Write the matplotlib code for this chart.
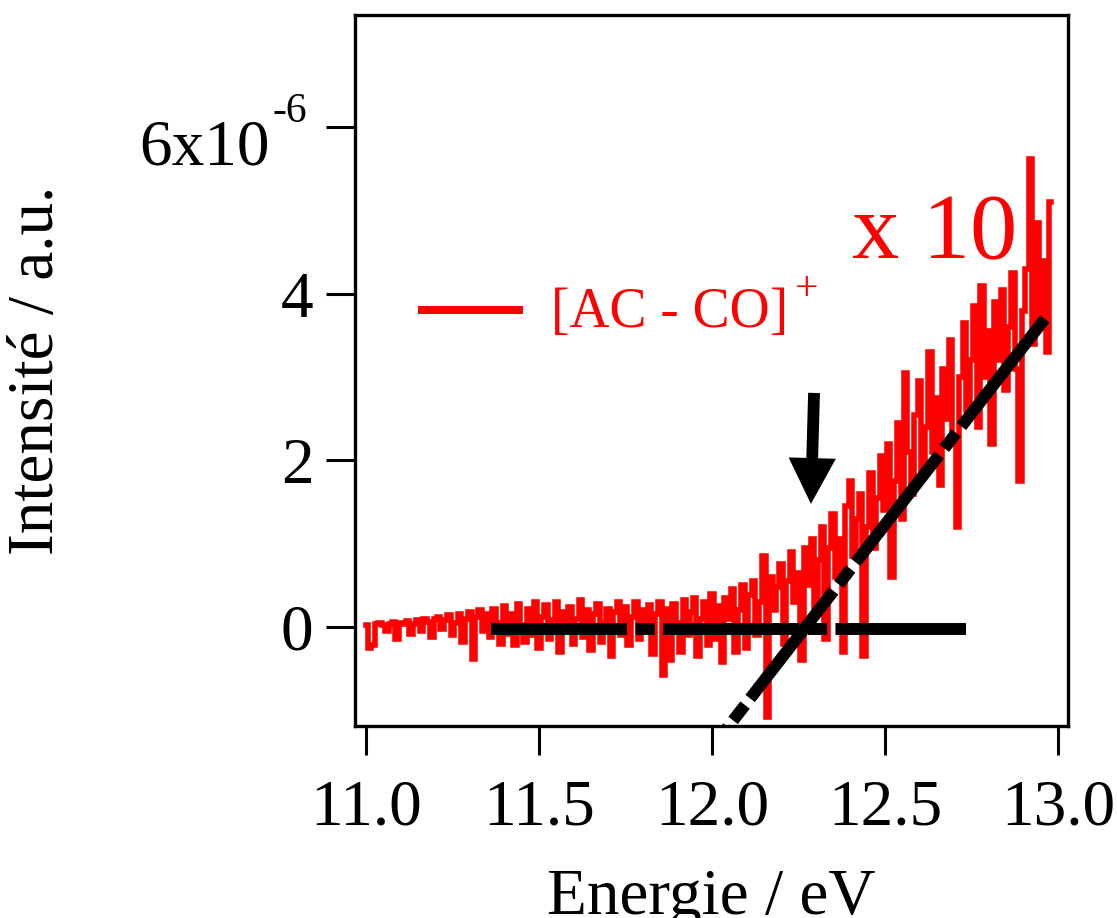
import numpy as np
import matplotlib
matplotlib.use("Agg")
import matplotlib.pyplot as plt
from matplotlib.transforms import blended_transform_factory

plt.rcParams['font.family'] = ['Liberation Serif', 'DejaVu Serif']
plt.rcParams['lines.scale_dashes'] = False

# signal [AC - CO]+ (x 1e-6, shown x 10), one value every 0.01 eV from 11.00 eV
intensity = [
    # 11.00 - 11.39
    0.02, -0.25, -0.22, 0.03, 0.05, 0.02, -0.05, 0.04, 0.06, -0.15,
    0.05, 0.03, 0.07, -0.08, 0.04, 0.08, -0.05, 0.10, 0.06, -0.12,
    0.09, 0.12, -0.02, 0.08, 0.14, -0.10, 0.05, 0.15, -0.18, 0.10,
    0.18, -0.38, 0.12, 0.20, -0.05, 0.16, -0.12, 0.22, 0.05, -0.20,
    # 11.40 - 11.99
    0.25, -0.08, 0.15, -0.22, 0.28, 0.02, -0.18, 0.22, -0.10, 0.30,
    -0.25, 0.12, 0.26, -0.15, 0.08, 0.30, -0.30, 0.18, -0.05, 0.24,
    -0.20, 0.10, 0.32, -0.12, 0.20, -0.28, 0.15, 0.28, -0.18, 0.05,
    0.22, -0.35, 0.18, 0.30, -0.10, 0.24, -0.22, 0.12, 0.30, -0.15,
    0.20, -0.05, 0.26, -0.32, 0.16, 0.30, -0.58, 0.22, -0.40, 0.28,
    0.05, -0.30, 0.32, -0.10, 0.18, 0.35, -0.35, 0.10, 0.30, -0.22,
    # 12.00 - 12.19
    0.40, -0.15, 0.25, -0.42, 0.35, 0.10, 0.45, -0.30, 0.20, 0.50,
    -0.25, 0.38, 0.55, -0.10, 0.30, 0.85, -1.08, 0.60, 0.20, 0.48,
    # 12.20 - 12.49
    0.75, -0.20, 0.55, 0.90, 0.30, 0.65, -0.40, 0.95, 0.50, 1.05,
    0.20, 0.80, 1.20, -0.15, 0.95, 1.35, 0.60, 1.05, -0.30, 1.45,
    1.75, 0.85, 1.30, 1.60, -0.35, 1.20, 1.85, 0.95, 1.55, 2.05,
    # 12.50 - 12.98
    1.40, 2.20, 0.60, 1.75, 2.45, 1.30, 3.05, 2.10, 1.60, 2.55,
    2.95, 1.85, 2.40, 3.30, 2.10, 2.75, 1.70, 3.10, 2.50, 3.45,
    2.20, 1.20, 3.00, 3.65, 2.60, 3.20, 3.85, 2.40, 4.10, 3.00,
    3.55, 2.20, 3.90, 3.20, 4.05, 2.85, 3.60, 4.25, 3.10, 1.75,
    3.80, 4.30, 5.62, 3.40, 4.85, 3.70, 4.40, 3.30, 5.10,
]
e_start = 11.0
e_step = 0.01
energy = e_start + e_step * np.arange(len(intensity))

# baseline and linear fit used for the onset
baseline_e = [11.36, 12.735]
baseline_i = [-0.02, -0.02]
fit_e = [12.962, 12.03]
fit_i = [3.70, -1.29]

# arrow marking the onset
arrow_tail = (12.295, 2.81)
arrow_tip = (12.286, 1.477)

fig = plt.figure(figsize=(11.17, 9.18), dpi=100)
ax = fig.add_axes([0.3178, 0.2092, 0.6383, 0.7745])

ax.plot(energy, np.array(intensity) * 1e-6, color='#ff0000', lw=4.0,
        drawstyle='steps-mid', solid_joinstyle='miter')

dash = (0, (98, 6, 14, 6))
ax.plot(baseline_e, np.array(baseline_i) * 1e-6, color='black', lw=8.6,
        linestyle=dash, dash_capstyle='butt')
ax.plot(fit_e, np.array(fit_i) * 1e-6, color='black', lw=8.6,
        linestyle=dash, dash_capstyle='butt')

ax.annotate('', xy=(arrow_tip[0], arrow_tip[1] * 1e-6),
            xytext=(arrow_tail[0], arrow_tail[1] * 1e-6),
            arrowprops=dict(arrowstyle='simple,head_length=3.3,head_width=3.4,tail_width=0.85',
                            mutation_scale=10, color='black', lw=0,
                            shrinkA=0, shrinkB=0))

ax.set_xlim(10.968, 13.029)
ax.set_ylim(-1.19e-6, 7.35e-6)

ax.set_xticks([11.0, 11.5, 12.0, 12.5, 13.0])
ax.set_xticklabels(['11.0', '11.5', '12.0', '12.5', '13.0'])
ax.set_yticks([0, 2e-6, 4e-6, 6e-6])
ax.set_yticklabels(['0', '2', '4', ''])

ax.tick_params(direction='out', length=21, width=2.2, labelsize=47, pad=9,
               color='black')
ax.tick_params(axis='x', pad=17)
for s in ax.spines.values():
    s.set_linewidth(2.4)

ytr = blended_transform_factory(ax.transAxes, ax.transData)
ax.text(-0.119, 5.55e-6, '6x10', transform=ytr, ha='right', va='baseline',
        fontsize=47)
ax.text(-0.116, 6.07e-6, '-6', transform=ytr, ha='left', va='baseline',
        fontsize=30)

ax.set_xlabel('Energie / eV', fontsize=47, labelpad=22)
ax.set_ylabel('Intensité / a.u.', fontsize=47)
ax.yaxis.set_label_coords(-0.404, 0.5)

# legend drawn by hand
ax.plot([0.088, 0.236], [0.585, 0.585], color='#ff0000', lw=5.8,
        transform=ax.transAxes, solid_capstyle='butt')
ax.text(0.275, 0.561, '[AC - CO]', transform=ax.transAxes, color='#ff0000',
        fontsize=40, ha='left', va='baseline')
ax.text(0.617, 0.599, '+', transform=ax.transAxes, color='#ff0000',
        fontsize=30, ha='left', va='baseline')

ax.text(0.697, 0.658, 'x 10', transform=ax.transAxes, color='#ff0000',
        fontsize=68, ha='left', va='baseline')

fig.savefig('out.png', dpi=100)
